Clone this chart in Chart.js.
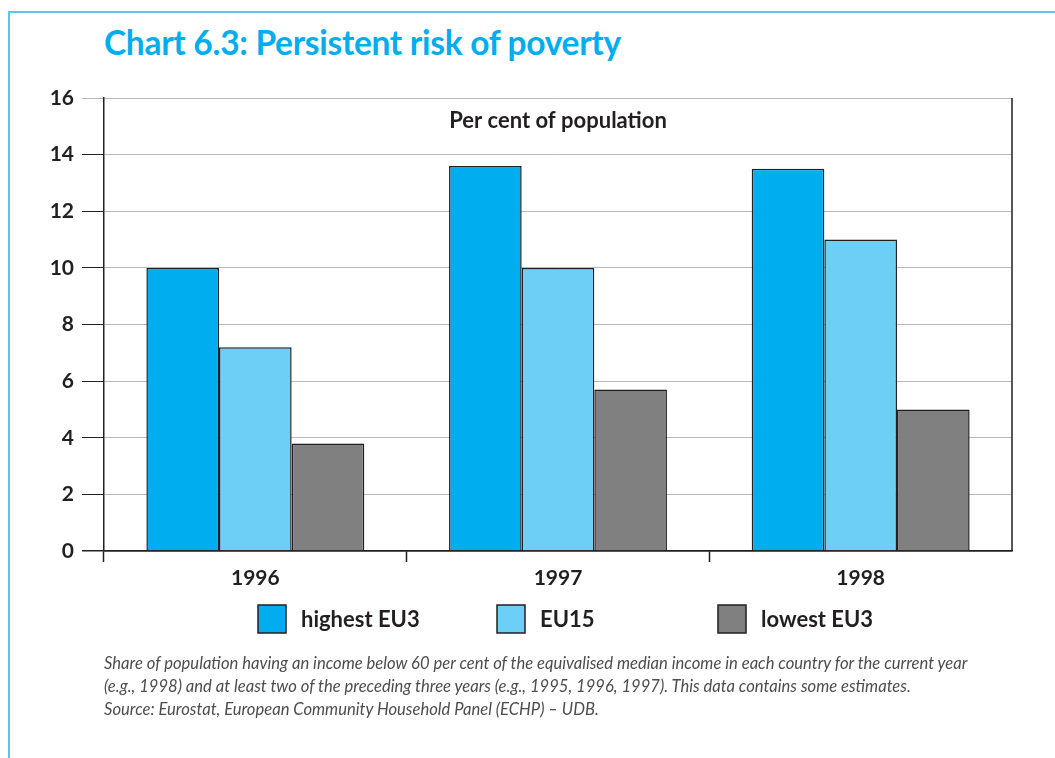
<!DOCTYPE html>
<html>
<head>
<meta charset="utf-8">
<script src="https://cdn.jsdelivr.net/npm/chart.js@4.4.1/dist/chart.umd.min.js"></script>
<style>
  html, body { margin: 0; padding: 0; background: #fff; }
  body { width: 1055px; height: 758px; position: relative; overflow: hidden; font-family: Lato, "Open Sans", sans-serif; }
  .frame { position: absolute; left: 8px; top: 11px; right: -4px; bottom: -4px; border-left: 2px solid #5bc4ec; border-top: 2px solid #5bc4ec; }
  h1 { position: absolute; left: 104px; top: 22px; margin: 0; font-size: 33.5px; font-weight: 700; color: #00aeef; letter-spacing: -0.3px; }
  #chartBox { position: absolute; left: 0; top: 0; width: 1055px; height: 758px; }
  .note { position: absolute; left: 104px; top: 652px; margin: 0; font-size: 16.6px; font-style: italic; line-height: 23px; color: #4d4d4d; }
</style>
</head>
<body>
<div class="frame"></div>
<h1>Chart 6.3: Persistent risk of poverty</h1>
<div id="chartBox"><canvas id="povertyChart" width="1055" height="758"></canvas></div>
<p class="note">Share of population having an income below 60 per cent of the equivalised median income in each country for the current year<br>(e.g., 1998) and at least two of the preceding three years (e.g., 1995, 1996, 1997). This data contains some estimates.<br>Source: Eurostat, European Community Household Panel (ECHP) – UDB.</p>
<script>
// --- Data ---
const years = ['1996', '1997', '1998'];
const highestEU3 = [10, 13.6, 13.5];
const eu15 = [7.2, 10, 11];
const lowestEU3 = [3.8, 5.7, 5.0];
const yTicks = [0, 2, 4, 6, 8, 10, 12, 14, 16];

const ink = '#231f20';
const colors = {
    highest: '#00aeef',
    eu15: '#6dcff6',
    lowest: '#808080',
    grid: '#b9b9b9',
};

// legend drawn underneath the axis, at fixed slots
const legendSlots = [258, 497, 718];

const captionPlugin = {
    id: 'caption',
    afterDraw(chart) {
        const { ctx, chartArea } = chart;
        ctx.save();
        // right edge of the plot
        ctx.strokeStyle = ink;
        ctx.lineWidth = 1.5;
        ctx.beginPath();
        ctx.moveTo(chartArea.right, chartArea.top);
        ctx.lineTo(chartArea.right, chartArea.bottom);
        ctx.stroke();

        ctx.fillStyle = ink;
        ctx.font = 'bold 22px Lato, sans-serif';
        ctx.textAlign = 'center';
        ctx.textBaseline = 'middle';
        ctx.fillText('Per cent of population', (chartArea.left + chartArea.right) / 2, 121);

        // legend
        ctx.textAlign = 'left';
        ctx.font = 'bold 22px Lato, sans-serif';
        chart.data.datasets.forEach((ds, i) => {
            const x = legendSlots[i];
            ctx.fillStyle = ds.backgroundColor;
            ctx.fillRect(x, 605, 28, 28);
            ctx.strokeStyle = ink;
            ctx.lineWidth = 1.5;
            ctx.strokeRect(x, 605, 28, 28);
            ctx.fillStyle = ink;
            ctx.fillText(ds.label, x + 43, 620);
        });
        ctx.restore();
    },
};

new Chart(document.getElementById('povertyChart'), {
    type: 'bar',
    data: {
        labels: years,
        datasets: [
            { label: 'highest EU3', data: highestEU3, backgroundColor: colors.highest },
            { label: 'EU15', data: eu15, backgroundColor: colors.eu15 },
            { label: 'lowest EU3', data: lowestEU3, backgroundColor: colors.lowest },
        ],
    },
    options: {
        responsive: false,
        animation: false,
        layout: { padding: { left: 20, right: 43, top: 98, bottom: 167 } },
        datasets: {
            bar: {
                categoryPercentage: 0.72,
                barPercentage: 1,
                borderColor: ink,
                borderWidth: 1.5,
            },
        },
        plugins: {
            legend: { display: false },
            tooltip: { enabled: false },
        },
        scales: {
            x: {
                grid: {
                    offset: true,
                    drawOnChartArea: false,
                    tickLength: 11,
                    tickWidth: 1.5,
                    // no tick past the last category
                    tickColor: c => (c.type === 'tick' ? ink : 'rgba(0,0,0,0)'),
                },
                border: { color: ink, width: 1.5 },
                ticks: { color: ink, padding: 4, font: { family: 'Lato', size: 21, weight: 'bold' } },
                afterFit: s => { s.height = 40; },
            },
            y: {
                min: 0,
                max: 16,
                afterBuildTicks: s => { s.ticks = yTicks.map(v => ({ value: v })); },
                grid: {
                    color: c => (c.tick && c.tick.value === 0 ? ink : colors.grid),
                    lineWidth: c => (c.tick && c.tick.value === 0 ? 1.5 : 1),
                    tickLength: 22,
                    tickColor: c => (c.tick && c.tick.value === 16 ? colors.grid : ink),
                },
                border: { color: ink, width: 1.5 },
                ticks: { color: ink, padding: 8, font: { family: 'Lato', size: 21, weight: 'bold' } },
                afterFit: s => { s.width = 84; },
            },
        },
    },
    plugins: [captionPlugin],
});
</script>
</body>
</html>
